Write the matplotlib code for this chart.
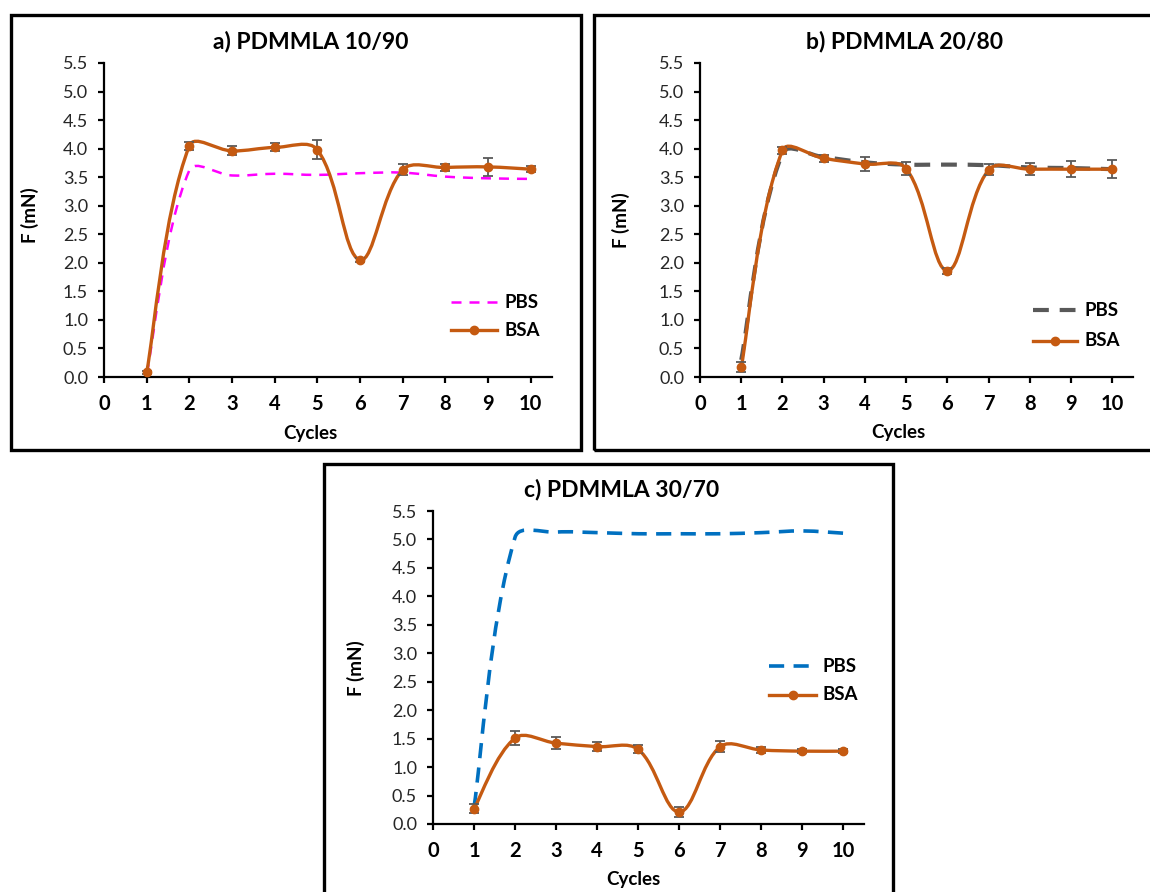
import numpy as np
import matplotlib
matplotlib.use("Agg")
import matplotlib.pyplot as plt
from matplotlib.path import Path
from matplotlib.patches import PathPatch, Rectangle
from matplotlib.lines import Line2D

plt.rcParams['font.family'] = ['Lato', 'DejaVu Sans']

cycles = [1, 2, 3, 4, 5, 6, 7, 8, 9, 10]

titles = ["a) PDMMLA 10/90", "b) PDMMLA 20/80", "c) PDMMLA 30/70"]

pbs_a = [0.05, 3.62, 3.53, 3.56, 3.54, 3.57, 3.58, 3.51, 3.48, 3.47]
bsa_a = [0.08, 4.05, 3.96, 4.02, 3.98, 2.05, 3.63, 3.67, 3.68, 3.64]
err_a = [0.03, 0.07, 0.08, 0.07, 0.17, 0.04, 0.10, 0.06, 0.16, 0.05]

pbs_b = [0.30, 3.92, 3.85, 3.76, 3.72, 3.72, 3.71, 3.67, 3.66, 3.64]
bsa_b = [0.17, 3.97, 3.83, 3.73, 3.65, 1.86, 3.63, 3.64, 3.64, 3.64]
err_b = [0.09, 0.06, 0.06, 0.13, 0.11, 0.05, 0.10, 0.11, 0.14, 0.16]

pbs_c = [0.30, 5.04, 5.13, 5.12, 5.10, 5.10, 5.10, 5.12, 5.15, 5.11]
bsa_c = [0.27, 1.51, 1.42, 1.36, 1.31, 0.21, 1.36, 1.30, 1.28, 1.28]
err_c = [0.08, 0.12, 0.10, 0.08, 0.07, 0.08, 0.10, 0.06, 0.04, 0.04]

yticks = [0.0, 0.5, 1.0, 1.5, 2.0, 2.5, 3.0, 3.5, 4.0, 4.5, 5.0, 5.5]
xticks = [0, 1, 2, 3, 4, 5, 6, 7, 8, 9, 10]

BSA_COLOR = "#C55A11"
ERR_COLOR = "#595959"
pbs_styles = [
    dict(color="#FF00FF", lw=1.8, dashes=(4.0, 3.2)),
    dict(color="#595959", lw=3.0, dashes=(3.8, 2.6)),
    dict(color="#0070C0", lw=2.6, dashes=(4.2, 2.6)),
]

W, H = 1150, 892
fig = plt.figure(figsize=(W / 100, H / 100), dpi=100)


def fx(px):
    return px / W


def fy(py):
    return 1 - py / H


def smooth_path(ax, xs, ys, k=0.36):
    """Excel-like smoothed line drawn as cubic Bezier segments."""
    xs = np.asarray(xs, float)
    ys = np.asarray(ys, float)
    bb = ax.get_position()
    x0, x1 = ax.get_xlim()
    y0, y1 = ax.get_ylim()
    sx = bb.width * W / (x1 - x0)
    sy = bb.height * H / (y1 - y0)
    P = np.column_stack([xs * sx, ys * sy])
    n = len(P)
    verts = [tuple(P[0])]
    codes = [Path.MOVETO]
    for i in range(n - 1):
        p0 = P[i - 1] if i > 0 else P[i]
        p1 = P[i]
        p2 = P[i + 1]
        p3 = P[i + 2] if i + 2 < n else P[i + 1]
        d01 = np.linalg.norm(p1 - p0)
        d12 = np.linalg.norm(p2 - p1)
        d23 = np.linalg.norm(p3 - p2)
        t1 = p2 - p0
        t2 = p3 - p1
        f1 = d12 / (d01 + d12) if d01 + d12 > 0 else 0.5
        f2 = d12 / (d12 + d23) if d12 + d23 > 0 else 0.5
        if i == 0:
            f1 = 0.5
        if i + 2 >= n:
            f2 = 0.5
        c1 = p1 + t1 * f1 * k
        c2 = p2 - t2 * f2 * k
        verts += [tuple(c1), tuple(c2), tuple(p2)]
        codes += [Path.CURVE4] * 3
    V = np.array(verts)
    V[:, 0] /= sx
    V[:, 1] /= sy
    return Path(V, codes)


panels = [
    dict(rect=(104, 63, 552, 377), pbs=pbs_a, bsa=bsa_a, err=err_a,
         title_xy=(311, 41), ylab_xy=(30, 215), xlab_xy=(310, 433),
         leg=(451, 497, 302, 330)),
    dict(rect=(700, 63, 1133, 377), pbs=pbs_b, bsa=bsa_b, err=err_b,
         title_xy=(905, 41), ylab_xy=(621, 220), xlab_xy=(898, 432),
         leg=(1033, 1077, 310, 341)),
    dict(rect=(433, 511, 864, 824), pbs=pbs_c, bsa=bsa_c, err=err_c,
         title_xy=(622, 489), ylab_xy=(356, 668), xlab_xy=(633, 879),
         leg=(769, 816, 666, 695)),
]

for k, p in enumerate(panels):
    l, t, r, b = p["rect"]
    ax = fig.add_axes([fx(l), fy(b), (r - l) / W, (b - t) / H])
    ax.set_xlim(0, 10.5)
    ax.set_ylim(0, 5.5)
    for s in ["top", "right"]:
        ax.spines[s].set_visible(False)
    for s in ["left", "bottom"]:
        ax.spines[s].set_linewidth(1.6)
        ax.spines[s].set_color("black")
    ax.set_xticks(xticks)
    ax.set_yticks(yticks)
    ax.set_yticklabels([f"{v:.1f}" for v in yticks], fontsize=13, color="#262626")
    ax.set_xticklabels([str(v) for v in xticks], fontsize=14.5, fontweight="bold", color="black")
    ax.tick_params(direction="out", length=4.5, width=1.6, color="black")
    ax.tick_params(axis="y", pad=7)
    ax.tick_params(axis="x", pad=8)
    ax.patch.set_alpha(0)

    st = pbs_styles[k]
    pbs_patch = PathPatch(smooth_path(ax, cycles, p["pbs"]), fill=False,
                          edgecolor=st["color"], lw=st["lw"], zorder=2,
                          capstyle="butt")
    pbs_patch.set_linestyle((0, st["dashes"]))
    ax.add_patch(pbs_patch)

    bsa_patch = PathPatch(smooth_path(ax, cycles, p["bsa"]), fill=False,
                          edgecolor=BSA_COLOR, lw=2.4, zorder=3)
    ax.add_patch(bsa_patch)
    ax.errorbar(cycles, p["bsa"], yerr=p["err"], fmt="none", ecolor=ERR_COLOR,
                elinewidth=1.3, capsize=3.5, capthick=1.3, zorder=4)
    ax.plot(cycles, p["bsa"], linestyle="none", marker="o", markersize=6,
            color=BSA_COLOR, zorder=5, clip_on=False)

    fig.text(fx(p["title_xy"][0]), fy(p["title_xy"][1]), titles[k],
             ha="center", va="center", fontsize=16.5, fontweight="bold")
    fig.text(fx(p["ylab_xy"][0]), fy(p["ylab_xy"][1]), "F (mN)", rotation=90,
             ha="center", va="center", fontsize=13.5, fontweight="bold")
    fig.text(fx(p["xlab_xy"][0]), fy(p["xlab_xy"][1]), "Cycles",
             ha="center", va="center", fontsize=13.5, fontweight="bold")

    lx0, lx1, ly1, ly2 = p["leg"]
    l1 = Line2D([fx(lx0), fx(lx1)], [fy(ly1), fy(ly1)], transform=fig.transFigure,
                color=st["color"], lw=st["lw"])
    l1.set_dashes(st["dashes"])
    fig.add_artist(l1)
    l2 = Line2D([fx(lx0), fx(lx1)], [fy(ly2), fy(ly2)], transform=fig.transFigure,
                color=BSA_COLOR, lw=2.4)
    fig.add_artist(l2)
    fig.add_artist(Line2D([fx((lx0 + lx1) / 2)], [fy(ly2)], transform=fig.transFigure,
                          color=BSA_COLOR, marker="o", markersize=6, linestyle="none"))
    fig.text(fx(lx1 + 7), fy(ly1), "PBS", ha="left", va="center", fontsize=13.5, fontweight="bold")
    fig.text(fx(lx1 + 7), fy(ly2), "BSA", ha="left", va="center", fontsize=13.5, fontweight="bold")

borders = [(11, 15, 581, 450), (594, 15, 1160, 450), (324, 464, 893, 910)]
for (x0, y0, x1, y1) in borders:
    fig.add_artist(Rectangle((fx(x0), fy(y1)), (x1 - x0) / W, (y1 - y0) / H,
                             transform=fig.transFigure, fill=False,
                             edgecolor="black", lw=2.4, clip_on=False))

fig.savefig("out.png", dpi=100)
